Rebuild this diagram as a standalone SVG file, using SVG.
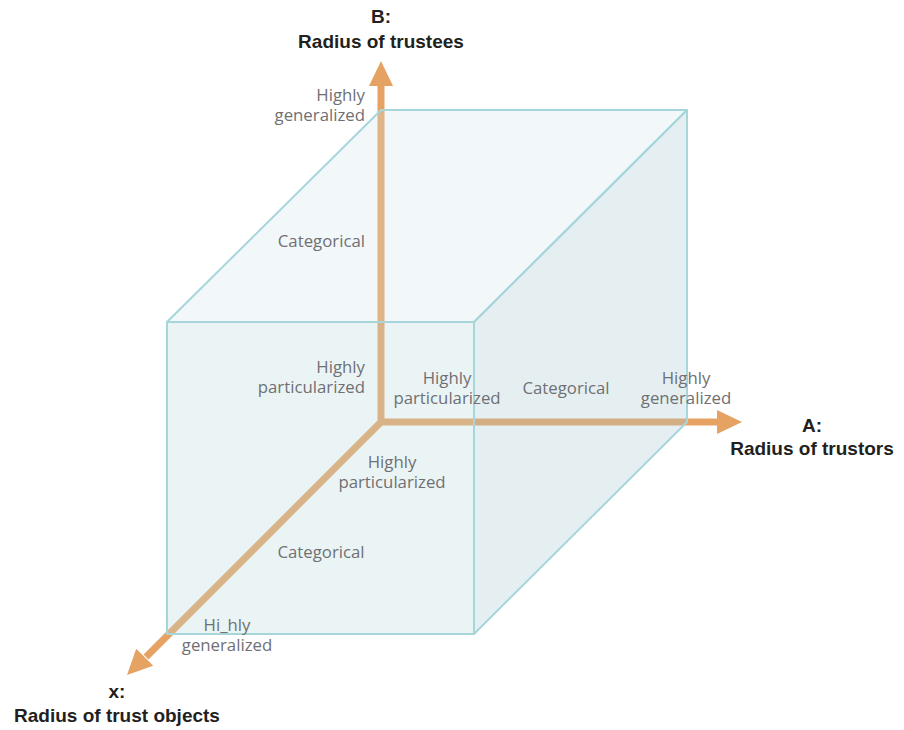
<svg xmlns="http://www.w3.org/2000/svg" width="904" height="730" viewBox="0 0 904 730">
  <style>
    .axis { fill: none; stroke: #e5a263; stroke-width: 7; stroke-linejoin: miter; }
    .head { fill: #e5a263; }
    .face { stroke: #a6d6db; stroke-width: 2; stroke-linejoin: round; }
    .top { fill: #cfe2e9; fill-opacity: 0.28; }
    .front { fill: #bcd9df; fill-opacity: 0.3; }
    .right { fill: #a9c9cf; fill-opacity: 0.3; }
    .lbl { font-family: "Open Sans", "Liberation Sans", sans-serif; font-size: 16.8px; fill: #6f7073; }
    .ttl { font-family: "Liberation Sans", Arial, sans-serif; font-size: 19px; font-weight: bold; fill: #231f20; text-anchor: middle; }
    .end { text-anchor: end; }
    .mid { text-anchor: middle; }
  </style>
  <rect width="904" height="730" fill="#ffffff"/>

  <g id="connectors">
    <path class="axis" d="M381,84 V422 H719"/>
    <path class="axis" d="M381,422 L146,657"/>
    <polygon class="head" points="381,61 393,86 369,86"/>
    <polygon class="head" points="742,422 717,410 717,434"/>
    <polygon class="head" points="127,675 136.2,648.8 153.2,665.8"/>
  </g>

  <g id="cube">
    <polygon class="face top" points="381,110 687,110 474,322 167,322"/>
    <polygon class="face right" points="687,110 687,422 474,634 474,322"/>
    <polygon class="face front" points="167,322 474,322 474,634 167,634"/>
  </g>

  <g id="axis-B-labels">
    <text class="ttl" x="381" y="23">B:<tspan x="381" dy="25">Radius of trustees</tspan></text>
    <text class="lbl end" x="365" y="101">Highly<tspan x="365" dy="20">generalized</tspan></text>
    <text class="lbl end" x="365" y="247">Categorical</text>
    <text class="lbl end" x="365" y="373">Highly<tspan x="365" dy="20">particularized</tspan></text>
  </g>

  <g id="axis-A-labels">
    <text class="ttl" x="812" y="432">A:<tspan x="812" dy="23">Radius of trustors</tspan></text>
    <text class="lbl mid" x="447" y="384">Highly<tspan x="447" dy="20">particularized</tspan></text>
    <text class="lbl mid" x="566" y="394">Categorical</text>
    <text class="lbl mid" x="686" y="384">Highly<tspan x="686" dy="20">generalized</tspan></text>
  </g>

  <g id="axis-x-labels">
    <text class="ttl" x="117" y="698">x:<tspan x="117" dy="24">Radius of trust objects</tspan></text>
    <text class="lbl mid" x="392" y="468">Highly<tspan x="392" dy="20">particularized</tspan></text>
    <text class="lbl mid" x="321" y="558">Categorical</text>
    <text class="lbl mid" x="227" y="631">Hi_hly<tspan x="227" dy="20">generalized</tspan></text>
  </g>
</svg>
